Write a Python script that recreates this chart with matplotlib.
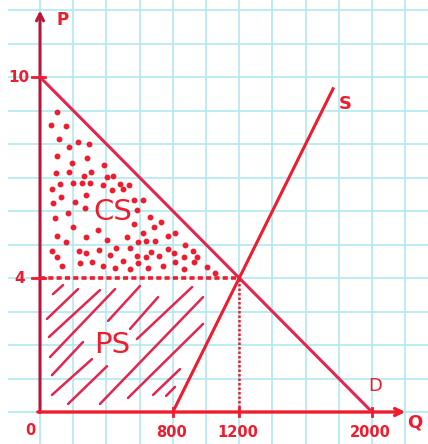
import matplotlib.pyplot as plt
import numpy as np

# ===== Curves =====
demand_q = [0, 2000]
demand_p = [10, 0]
supply_q = [800, 1765]
supply_p = [0, 9.65]
eq_q, eq_p = 1200, 4

# ===== Tick labels =====
x_ticks = [800, 1200, 2000]
x_tick_labels = ["800", "1200", "2000"]
y_ticks = [10, 4]
y_tick_labels = ["10", "4"]

# ===== Consumer surplus dots (Q, P) =====
cs_q = [102, 66, 157, 114, 175, 229, 295, 102, 193, 283, 386, 96, 175, 265, 307,
        404, 440, 72, 120, 199, 253, 301, 380, 482, 536, 127, 78, 211, 277, 271,
        434, 500, 566, 620, 584, 90, 169, 199, 663, 566, 729, 687, 102, 157, 277,
        349, 404, 524, 620, 771, 813, 72, 102, 235, 277, 355, 458, 542, 590, 639,
        693, 873, 422, 584, 639, 669, 717, 771, 807, 867, 922, 946, 133, 241, 313,
        380, 452, 500, 542, 590, 651, 741, 813, 867, 928, 1006, 1054]
cs_p = [8.96, 8.57, 8.54, 8.15, 7.91, 8.06, 8.00, 7.64, 7.43, 7.58, 7.37, 7.13, 7.16,
        7.04, 7.16, 7.01, 7.04, 6.66, 6.81, 6.84, 6.84, 6.84, 6.78, 6.81, 6.78, 6.42,
        6.24, 6.27, 6.48, 6.09, 6.63, 6.66, 6.33, 6.33, 6.03, 5.79, 5.94, 5.52, 5.82,
        5.61, 5.67, 5.52, 5.25, 5.07, 5.22, 5.43, 5.13, 5.22, 5.34, 5.25, 5.34, 4.81,
        4.63, 4.81, 4.75, 4.84, 4.90, 4.90, 5.07, 5.10, 5.10, 4.99, 4.69, 4.66, 4.63,
        4.78, 4.66, 4.87, 4.75, 4.63, 4.81, 4.63, 4.36, 4.45, 4.48, 4.36, 4.30, 4.51,
        4.27, 4.45, 4.30, 4.36, 4.48, 4.27, 4.48, 4.33, 4.15]

# ===== Producer surplus hatch strokes (start Q, start P, end Q, end P) =====
ps_q0 = [42, 78, 54, 60, 410, 72, 72, 542, 584, 169, 361, 530, 681, 759]
ps_p0 = [2.78, 3.52, 2.24, 1.64, 2.72, 1.10, 0.51, 2.48, 2.18, 0.24, 0.24, 0.42, 0.51, 0.48]
ps_q1 = [229, 139, 361, 452, 602, 259, 313, 711, 916, 404, 982, 982, 843, 813]
ps_p1 = [3.67, 3.79, 3.64, 3.67, 3.76, 2.09, 1.58, 3.43, 3.73, 1.37, 3.43, 2.63, 1.28, 0.75]

# ===== Styling =====
red = "#ee1c2e"
pink_red = "#e3264f"
axis_red = "#b8143c"
grid_col = "#b0e9f1"
font_name = "DejaVu Sans"

fig = plt.figure(figsize=(4.28, 4.44), dpi=100)
ax = fig.add_axes([0, 0, 1, 1])
ax.set_xlim(-241, 2337)
ax.set_ylim(-0.955, 12.3)
ax.axis("off")

# ===== Graph paper =====
ax.hlines(np.arange(0, 13), -195, 2337, color=grid_col, lw=1.2, zorder=0)
ax.vlines(np.arange(0, 2201, 200), -0.955, 12.3, color=grid_col, lw=1.2, zorder=0)

# ===== Surplus areas =====
ax.plot(cs_q, cs_p, "o", color=red, markersize=3.2, zorder=3)
for q0, p0, q1, p1 in zip(ps_q0, ps_p0, ps_q1, ps_p1):
    ax.plot([q0, q1], [p0, p1], color=pink_red, lw=1.8, solid_capstyle="round", zorder=3)

# ===== Axes with arrows =====
ax.annotate("", xy=(0, 12.07), xytext=(0, -0.1),
            arrowprops=dict(arrowstyle="->,head_length=0.5,head_width=0.25",
                            color=axis_red, lw=2.2), zorder=4)
ax.annotate("", xy=(2217, 0), xytext=(-30, 0),
            arrowprops=dict(arrowstyle="->,head_length=0.5,head_width=0.25",
                            color=red, lw=2.4), zorder=4)

# ===== Demand / supply =====
ax.plot(demand_q, demand_p, color=pink_red, lw=2.2, zorder=4)
ax.plot(supply_q, supply_p, color=red, lw=2.2, zorder=4)

# ===== Equilibrium guides =====
ax.plot([0, eq_q], [eq_p, eq_p], color=red, lw=2.6, ls=(0, (1.4, 0.9)), zorder=4)
ax.plot([eq_q, eq_q], [0, eq_p], color=red, lw=1.8, ls=(0, (1, 0.8)), zorder=4)

# ===== Tick marks and labels =====
for q, lab in zip(x_ticks, x_tick_labels):
    ax.plot([q, q], [-0.12, 0.12], color=red, lw=2, zorder=4)
    ax.text(q - 10, -0.6, lab, color=red, fontsize=10.5, fontweight="bold",
            fontname=font_name, ha="center", va="center")
for p, lab in zip(y_ticks, y_tick_labels):
    ax.plot([-50, 30], [p, p], color=red, lw=2, zorder=4)
    ax.text(-125, p, lab, color=red, fontsize=11, fontweight="bold",
            fontname=font_name, ha="center", va="center")
ax.text(-60, -0.54, "0", color=red, fontsize=10.5, fontweight="bold",
        fontname=font_name, ha="center", va="center")

# ===== Curve & axis names =====
ax.text(133, 11.7, "P", color=red, fontsize=12, fontweight="bold",
        fontname=font_name, ha="center", va="center")
ax.text(2259, -0.3, "Q", color=red, fontsize=13, fontweight="bold",
        fontname=font_name, ha="center", va="center")
ax.text(2018, 0.78, "D", color=red, fontsize=13, fontname=font_name,
        ha="center", va="center")
ax.text(1837, 9.19, "S", color=red, fontsize=13, fontweight="bold",
        fontname=font_name, ha="center", va="center")
ax.text(440, 5.97, "CS", color=red, fontsize=21, fontname=font_name,
        ha="center", va="center", zorder=5)
ax.text(434, 2.0, "PS", color=red, fontsize=21, fontname=font_name,
        ha="center", va="center", zorder=5)

plt.savefig("out.png", dpi=100, facecolor="white")
